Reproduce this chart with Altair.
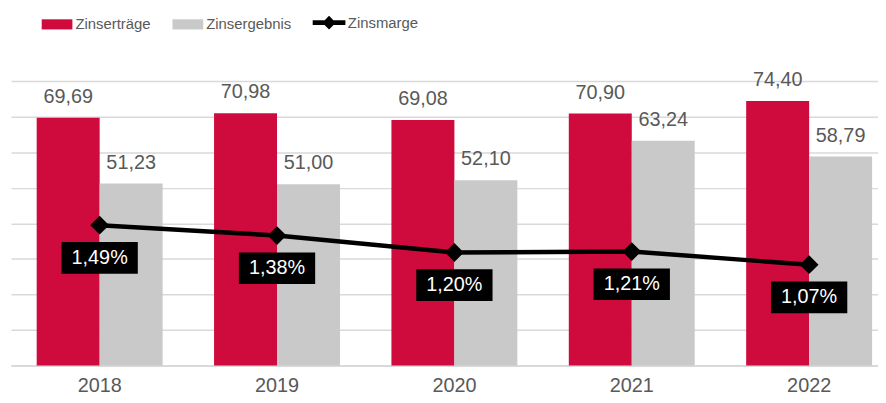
import altair as alt
import pandas as pd

years = ["2018", "2019", "2020", "2021", "2022"]
zinsertraege = [69.69, 70.98, 69.08, 70.90, 74.40]
zinsergebnis = [51.23, 51.00, 52.10, 63.24, 58.79]
zinsmarge = [1.49, 1.38, 1.20, 1.21, 1.07]
series_names = ["Zinserträge", "Zinsergebnis"]
line_name = "Zinsmarge"

RED = "#CF0A3C"
GRAY = "#C9C9C9"
TXT = "#595959"
GRID = "#D9D9D9"
FONT = "Liberation Sans"

rows = []
for i, y in enumerate(years):
    rows.append({"year": y, "series": series_names[0], "value": zinsertraege[i],
                 "label": f"{zinsertraege[i]:.2f}".replace(".", ",")})
    rows.append({"year": y, "series": series_names[1], "value": zinsergebnis[i],
                 "label": f"{zinsergebnis[i]:.2f}".replace(".", ",")})
bars_df = pd.DataFrame(rows)

line_df = pd.DataFrame({
    "year": years,
    "marge": zinsmarge,
    "name": [line_name] * len(years),
    "label": [f"{v:.2f}%".replace(".", ",") for v in zinsmarge],
})

xscale = alt.Scale(range=[0, 895], paddingInner=0.29, paddingOuter=0.145)
xaxis = alt.Axis(title=None, labelAngle=0, ticks=False, labelFontSize=20, labelFont=FONT,
                 labelColor=TXT, domainColor=GRID, domainWidth=2, labelPadding=26,
                 labelBaseline="alphabetic", grid=False)
x = alt.X("year:N", scale=xscale, axis=xaxis, sort=years)
xoff = alt.XOffset("series:N", sort=series_names, scale=alt.Scale(paddingInner=0))

yscale = alt.Scale(domain=[0, 80], nice=False)
yaxis = alt.Axis(title=None, labels=False, ticks=False, domain=False,
                 values=[0, 10, 20, 30, 40, 50, 60, 70, 80],
                 gridColor=GRID, gridWidth=1.5)

bars = alt.Chart(bars_df).mark_bar().encode(
    x=x, xOffset=xoff,
    y=alt.Y("value:Q", scale=yscale, axis=yaxis),
    fill=alt.Fill("series:N", sort=series_names,
                  scale=alt.Scale(domain=series_names, range=[RED, GRAY]),
                  legend=alt.Legend(title=None, orient="none", legendX=31, legendY=-73,
                                    direction="horizontal", padding=0, gridAlign="all",
                                    symbolType="M-1,-0.33H1V0.33H-1Z", symbolSize=961,
                                    symbolStrokeWidth=0, labelFont=FONT, labelFontSize=15,
                                    labelColor=TXT, labelOffset=3, columnPadding=12)),
)
bar_text = alt.Chart(bars_df).mark_text(
    baseline="alphabetic", dy=-15, fontSize=20, font=FONT, color=TXT
).encode(
    x=x, xOffset=xoff,
    y=alt.Y("value:Q", scale=yscale, axis=yaxis),
    text="label:N",
)

y2scale = alt.Scale(domain=[0, 3.02], nice=False, zero=True)
y2 = alt.Y("marge:Q", scale=y2scale, axis=None)

line = alt.Chart(line_df).mark_line(
    strokeWidth=4.5,
    point=alt.OverlayMarkDef(shape="diamond", size=260, filled=True, color="black"),
).encode(
    x=x, y=y2,
    stroke=alt.Stroke("name:N", scale=alt.Scale(domain=[line_name], range=["black"]),
                      legend=alt.Legend(title=None, orient="none", legendX=302, legendY=-78,
                                        padding=0, direction="horizontal",
                                        symbolType="M-1,0H1M-0.2,0L0,-0.2L0.2,0L0,0.2Z",
                                        symbolSize=1089, symbolStrokeWidth=5,
                                        symbolFillColor="black", labelFont=FONT,
                                        labelFontSize=15, labelColor=TXT, labelOffset=0)),
)
boxes = alt.Chart(line_df).mark_point(
    shape="M-1,-0.4156H1V0.4156H-1Z", size=5929, filled=True, color="black",
    opacity=1, yOffset=33,
).encode(x=x, y=y2)
box_text = alt.Chart(line_df).mark_text(
    baseline="middle", align="center", fontSize=20, font=FONT, color="white", yOffset=33,
).encode(x=x, y=y2, text="label:N")

left = alt.layer(bars, bar_text)
right = alt.layer(line, boxes, box_text)

chart = alt.layer(left, right).resolve_scale(y="independent").properties(
    width=875, height=287,
    autosize=alt.AutoSizeParams(type="none"),
    padding={"left": 3, "top": 72, "right": 0, "bottom": 28},
).configure_view(stroke=None)

chart.save("out.html", embed_options={"renderer": "svg", "actions": False})
